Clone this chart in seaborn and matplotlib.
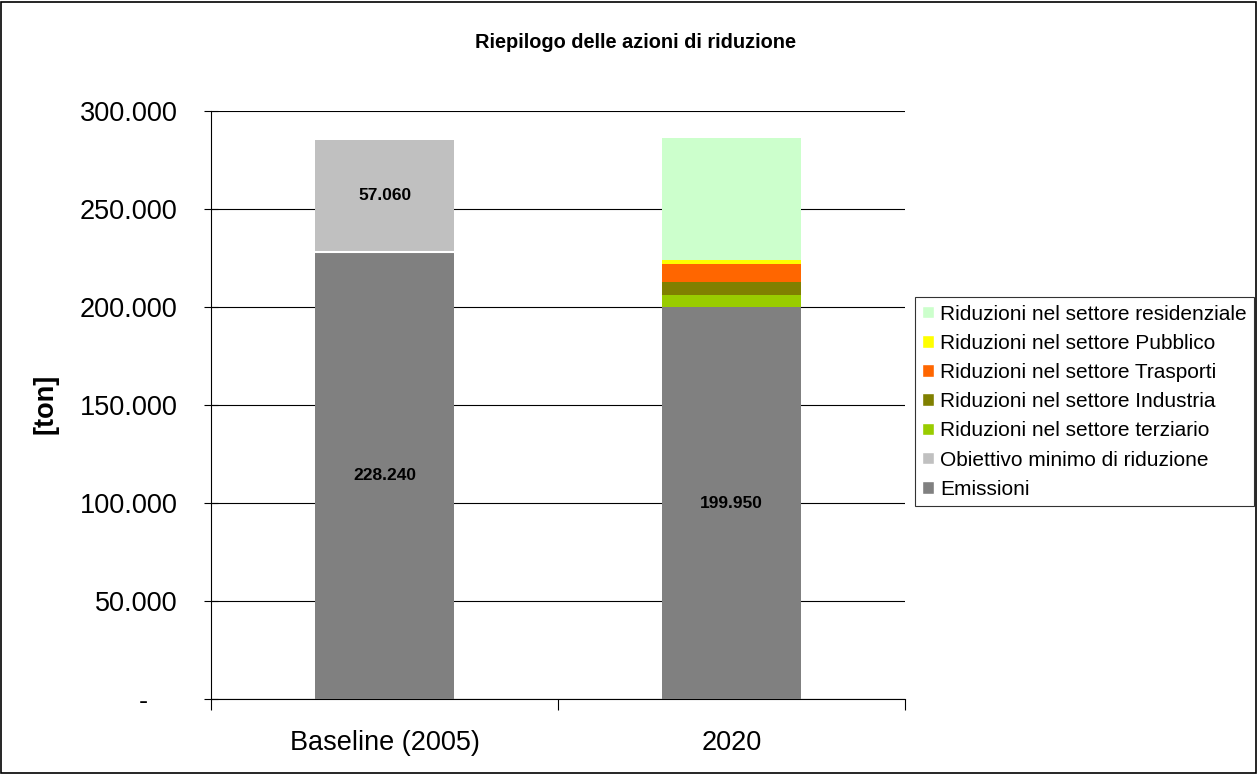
import numpy as np
import pandas as pd
import matplotlib
matplotlib.use('Agg')
import matplotlib.pyplot as plt
from matplotlib.patches import Rectangle, Patch
from matplotlib.ticker import FuncFormatter, FixedLocator
import seaborn as sns

# ── Data ──────────────────────────────────────────
categories = ['Baseline (2005)', '2020']
emissioni = [228240, 199950]
obiettivo = [57060, 0]
terziario = [0, 6000]
industria = [0, 6800]
trasporti = [0, 9200]
pubblico = [0, 2200]
residenziale = [0, 62200]

series_names = ['Emissioni', 'Obiettivo minimo di riduzione',
                'Riduzioni nel settore terziario', 'Riduzioni nel settore Industria',
                'Riduzioni nel settore Trasporti', 'Riduzioni nel settore Pubblico',
                'Riduzioni nel settore residenziale']
series_vals = [emissioni, obiettivo, terziario, industria, trasporti, pubblico, residenziale]
colors = ['#808080', '#C0C0C0', '#99CC00', '#808000', '#FF6600', '#FFFF00', '#CCFFCC']

sns.set_style('white')
plt.rcParams['font.family'] = ['Liberation Sans', 'DejaVu Sans']
for k in ['text.color', 'axes.labelcolor', 'xtick.color', 'ytick.color']:
    plt.rcParams[k] = 'black'

fig = plt.figure(figsize=(12.59, 7.74), dpi=100)
ax = fig.add_axes([0.1676, 0.0969, 0.5512, 0.7597])

# ── Stacked bars (draw cumulative totals from top down) ──
cum = np.cumsum(np.array(series_vals), axis=0)
for i in range(len(series_names) - 1, -1, -1):
    df = pd.DataFrame({'cat': categories, 'val': cum[i]})
    sns.barplot(data=df, x='cat', y='val', color=colors[i], width=0.4,
                saturation=1, ax=ax, linewidth=0, zorder=3)

# white separator on the baseline bar
ax.hlines(emissioni[0], -0.2, 0.2, color='white', lw=1.5, zorder=4)

def fmt(v):
    return f"{int(v):,}".replace(',', '.')

# value labels
ax.text(0, emissioni[0] / 2, fmt(emissioni[0]), ha='center', va='center',
        fontsize=12.5, fontweight='bold', zorder=5)
ax.text(0, emissioni[0] + obiettivo[0] / 2, fmt(obiettivo[0]),
        ha='center', va='center', fontsize=12.5, fontweight='bold', zorder=5)
ax.text(1, emissioni[1] / 2, fmt(emissioni[1]), ha='center', va='center',
        fontsize=12.5, fontweight='bold', zorder=5)

# ── Axes styling ──
ax.set_xlim(-0.5, 1.5)
ax.set_ylim(0, 300000)
ax.set_yticks(np.arange(0, 300001, 50000))
ax.yaxis.set_major_formatter(FuncFormatter(lambda v, p: '-    ' if v == 0 else fmt(v)))
ax.yaxis.grid(True, color='black', lw=0.8, zorder=0)
ax.set_axisbelow(True)
ax.tick_params(axis='y', direction='inout', length=10, width=0.8, labelsize=19.5, left=True, pad=19)
ax.tick_params(axis='x', which='major', length=0, labelsize=19.5, pad=22)
ax.xaxis.set_minor_locator(FixedLocator([-0.5, 0.5, 1.5]))
ax.tick_params(axis='x', which='minor', direction='out', length=8, width=0.8, bottom=True)
ax.set_xlabel('')
ax.set_ylabel('')
for s in ['top', 'right']:
    ax.spines[s].set_visible(False)
for s in ['left', 'bottom']:
    ax.spines[s].set_color('black')
    ax.spines[s].set_linewidth(0.8)

fig.text(45 / 1259, 1 - 404 / 774, '[ton]', rotation=90, ha='center', va='center',
         fontsize=19.5, fontweight='bold')
fig.text(0.505, 0.945, 'Riepilogo delle azioni di riduzione', ha='center', va='center',
         fontsize=14.4, fontweight='bold')

# ── Legend ──
handles = [Patch(facecolor=c, label=n) for n, c in zip(series_names, colors)][::-1]
leg = fig.legend(handles=handles, loc='upper left', bbox_to_anchor=(915 / 1259, 1 - 297 / 774),
                 frameon=True, fancybox=False, fontsize=15, handlelength=0.55, handleheight=0.55,
                 handletextpad=0.3, labelspacing=0.49, borderpad=0.36, borderaxespad=0)
leg.get_frame().set_edgecolor('black')
leg.get_frame().set_linewidth(0.8)

# figure border
fig.patches.append(Rectangle((0.001, 0.001), 0.997, 0.997, transform=fig.transFigure,
                             fill=False, edgecolor='black', lw=1.2))

plt.savefig('out.png', dpi=100)
